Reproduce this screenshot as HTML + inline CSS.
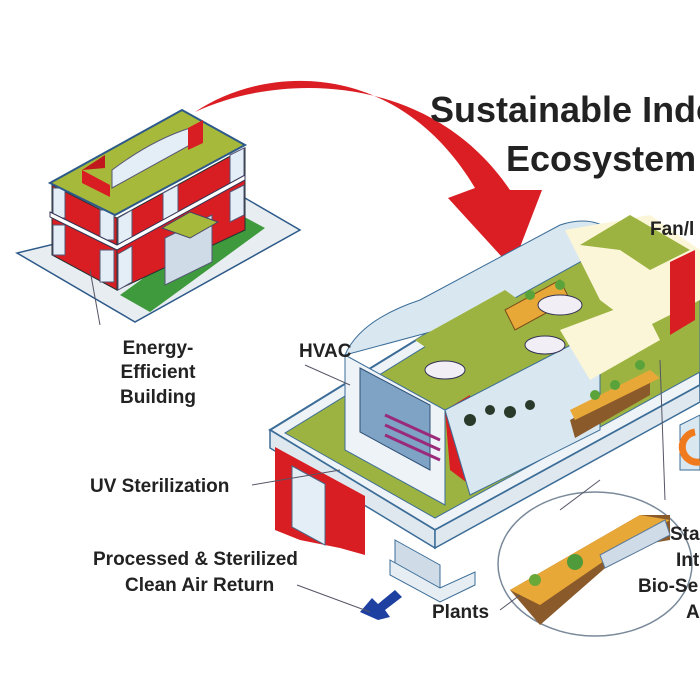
<!DOCTYPE html>
<html><head><meta charset="utf-8"><style>
html,body{margin:0;padding:0;background:#fff;width:700px;height:700px;overflow:hidden}
svg{display:block}
text{font-family:"Liberation Sans",sans-serif;font-weight:bold;fill:#222}
</style></head><body>
<svg width="700" height="700" viewBox="0 0 700 700" xmlns="http://www.w3.org/2000/svg">
<rect width="700" height="700" fill="#fff"/>
<!-- small building -->
<polygon points="17,253 135,322 300,230 245,198" fill="#e8edf1" stroke="#2d5a8a" stroke-width="1.5"/>
<polygon points="120,295 150,312 265,228 235,212" fill="#3e9a3c"/>
<polygon points="52,185 117,218 117,290 52,255" fill="#d81e22" stroke="#233" stroke-width="1"/>
<polygon points="117,218 245,148 245,230 117,290" fill="#d81e22" stroke="#233" stroke-width="1"/>
<g fill="#e4eef6" stroke="#557">
<rect x="53" y="188" width="12" height="30"/><rect x="53" y="225" width="12" height="30"/>
<rect x="100" y="210" width="14" height="30"/><rect x="100" y="250" width="14" height="32"/>
<polygon points="118,218 132,210 132,240 118,248"/><polygon points="118,254 132,246 132,282 118,290"/>
<polygon points="163,193 178,185 178,215 163,223"/><polygon points="230,155 244,148 244,178 230,186"/>
<polygon points="230,192 244,185 244,215 230,222"/>
<polygon points="165,238 212,215 212,262 165,285" fill="#cfdbe6"/>
</g>
<polygon points="162,228 190,212 218,222 190,238" fill="#a7b93a" stroke="#446"/>
<polygon points="50,183 115,215 245,145 182,110" fill="#a7b93a" stroke="#2d5a8a" stroke-width="2"/>
<polygon points="50,212 117,245 245,175 245,180 117,250 50,217" fill="#fff" stroke="#335"/>
<polygon points="82,170 110,185 110,197 82,183" fill="#d81e22"/>
<polygon points="82,170 105,155 105,168" fill="#c0181c"/>
<path d="M112,170 L112,188 L190,145 L190,128 Q152,140 112,170Z" fill="#e4eef6" stroke="#557"/>
<polygon points="188,128 203,120 203,143 188,150" fill="#d81e22"/>
<!-- red arrow -->
<path d="M195,112 C270,62 400,62 475,188 L448,198 L512,268 L542,190 L510,190 C430,72 280,72 195,112Z" fill="#da1e23"/>
<!-- title -->
<text x="430" y="122" font-size="36">Sustainable Indoor</text>
<text x="506" y="171" font-size="36">Ecosystem</text>
<!-- big slab -->
<polygon points="270,430 435,530 700,385 700,282 598,228" fill="#eef3f7" stroke="#3b6d98" stroke-width="2"/>
<polygon points="270,430 435,530 435,548 270,448" fill="#dfe8ef" stroke="#3b6d98" stroke-width="1.5"/>
<polygon points="435,530 700,385 700,402 435,548" fill="#dfe8ef" stroke="#3b6d98" stroke-width="1.5"/>
<polygon points="285,433 435,518 700,372 700,300 598,240" fill="#9db341" stroke="#3b6d98"/>
<!-- red wall left -->
<polygon points="275,447 365,496 365,555 340,548 300,540 275,530" fill="#d81e22"/>
<polygon points="292,466 325,484 325,545 292,527" fill="#e4eef6" stroke="#4a6a8a"/>
<!-- column -->
<polygon points="395,540 440,565 440,600 395,575" fill="#cfdce7" stroke="#3b6d98"/>
<polygon points="390,560 440,588 475,572 475,585 440,602 390,575" fill="#e6edf3" stroke="#3b6d98"/>
<polygon points="378,620 360,612 372,598 378,604 395,590 402,597 385,610 390,617" fill="#1e40a0"/>
<!-- HVAC box -->
<polygon points="345,355 445,410 445,505 345,450" fill="#eef3f7" stroke="#3b6d98"/>
<polygon points="360,368 430,405 430,470 360,432" fill="#7fa3c5" stroke="#2d4f75"/>
<g stroke="#9a2a7a" stroke-width="3"><line x1="385" y1="415" x2="440" y2="440"/><line x1="385" y1="425" x2="440" y2="450"/><line x1="385" y1="435" x2="440" y2="460"/></g>
<polygon points="445,410 470,395 470,485 450,470" fill="#d81e22"/>
<!-- greenhouse -->
<polygon points="445,410 600,330 600,430 470,495" fill="#d9e7f1" stroke="#3b6d98"/>
<path d="M345,355 Q360,320 420,300 L560,225 Q590,215 610,230 L620,240 L475,320 Z" fill="#d9e7f1" stroke="#3b6d98"/>
<polygon points="415,340 505,290 560,330 470,378" fill="#9db341"/>
<polygon points="565,230 650,215 700,250 700,300 640,330 600,300" fill="#fbf6d8"/>
<polygon points="580,245 630,215 690,250 650,270 620,250" fill="#9db341"/>
<polygon points="560,330 640,300 660,340 590,380" fill="#fbf6d8"/>
<polygon points="670,262 695,250 695,320 670,335" fill="#d81e22"/>
<polygon points="505,310 560,280 570,300 515,330" fill="#e8a838" stroke="#7a4a1a"/>
<polygon points="570,420 650,378 650,395 575,438" fill="#8a5a2a"/>
<polygon points="570,410 650,370 660,378 575,420" fill="#e8a838"/>
<ellipse cx="560" cy="305" rx="22" ry="10" fill="#f2eef6" stroke="#335"/>
<ellipse cx="545" cy="345" rx="20" ry="9" fill="#f2eef6" stroke="#335"/>
<ellipse cx="445" cy="370" rx="20" ry="9" fill="#f2eef6" stroke="#335"/>
<g fill="#2a3a2a"><circle cx="470" cy="420" r="6"/><circle cx="490" cy="410" r="5"/><circle cx="510" cy="412" r="6"/><circle cx="530" cy="405" r="5"/></g>
<g fill="#5aa33a"><circle cx="640" cy="365" r="5"/><circle cx="615" cy="385" r="5"/><circle cx="595" cy="395" r="5"/><circle cx="530" cy="295" r="5"/><circle cx="560" cy="285" r="5"/></g>
<!-- right box with orange arrow -->
<polygon points="680,425 700,415 700,470 680,470" fill="#d9e7f1" stroke="#3b6d98"/>
<path d="M695,432 A14,14 0 1 0 700,462" fill="none" stroke="#f07a1e" stroke-width="7"/>
<!-- ellipse detail -->
<ellipse cx="595" cy="564" rx="97" ry="72" fill="#fff" stroke="#7a8a9a" stroke-width="1.5"/>
<polygon points="510,590 640,515 670,515 670,540 640,545 620,555 540,625" fill="#8a5a2a"/>
<polygon points="510,590 640,515 670,520 620,550 540,605" fill="#e8a838"/>
<polygon points="600,555 665,520 670,535 605,568" fill="#cfdbe6" stroke="#5a7a9a"/>
<circle cx="575" cy="562" r="8" fill="#4f9a3a"/><circle cx="535" cy="580" r="6" fill="#6aa83a"/>
<!-- leader lines -->
<g stroke="#556" stroke-width="1" fill="none">
<line x1="100" y1="325" x2="90" y2="270"/>
<line x1="305" y1="365" x2="350" y2="385"/>
<line x1="252" y1="485" x2="340" y2="470"/>
<line x1="297" y1="585" x2="370" y2="612"/>
<line x1="500" y1="610" x2="520" y2="595"/>
<line x1="660" y1="360" x2="665" y2="500"/>
<line x1="600" y1="480" x2="560" y2="510"/>
</g>
<!-- labels -->
<g font-size="19" text-anchor="middle">
<text x="158" y="354">Energy-</text>
<text x="158" y="378">Efficient</text>
<text x="158" y="403">Building</text>
</g>
<text x="299" y="357" font-size="19">HVAC</text>
<text x="90" y="492" font-size="19">UV Sterilization</text>
<text x="93" y="565" font-size="19">Processed &amp; Sterilized</text>
<text x="125" y="591" font-size="19">Clean Air Return</text>
<text x="432" y="618" font-size="19">Plants</text>
<text x="650" y="235" font-size="19">Fan/l</text>
<text x="670" y="540" font-size="19">Sta</text>
<text x="676" y="566" font-size="19">Int</text>
<text x="638" y="592" font-size="19">Bio-Se</text>
<text x="686" y="618" font-size="19">A</text>
</svg>
</body></html>
